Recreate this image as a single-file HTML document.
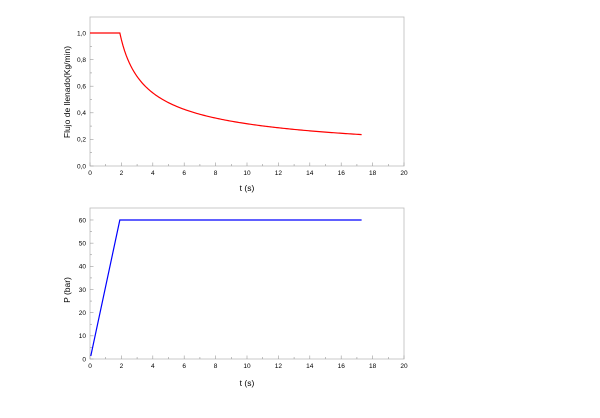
<!DOCTYPE html><html><head><style>body{margin:0;background:#fff}svg{display:block;font-family:"Liberation Sans",sans-serif}</style></head><body>
<svg id="s" width="600" height="418" xmlns="http://www.w3.org/2000/svg">
<g id="g1"></g>
<text x="247" y="191" font-size="8.5" text-anchor="middle">t (s)</text>
<text x="247" y="386" font-size="8.5" text-anchor="middle">t (s)</text>
<text transform="translate(70,92) rotate(-90)" font-size="8.5" text-anchor="middle">Flujo de llenado(Kg/min)</text>
<text transform="translate(70,290) rotate(-90)" font-size="8.5" text-anchor="middle">P (bar)</text>
</svg>
<script>
var g=document.getElementById('g1'),h='';
var X0=90,X1=404;function X(t){return X0+(X1-X0)*t/20}
function axes(top,bot,y0,ys,yt,ylab){
 h+='<rect x="'+X0+'" y="'+top+'" width="'+(X1-X0)+'" height="'+(bot-top)+'" fill="none" stroke="#bbb" stroke-width="0.8"/>';
 for(var t=0;t<=20;t+=1){var x=X(t),L=t%2?2:3.5;h+='<line x1="'+x+'" x2="'+x+'" y1="'+bot+'" y2="'+(bot-L)+'" stroke="#999" stroke-width="0.6"/>';
  if(t%2==0)h+='<text x="'+x+'" y="'+(bot+9)+'" font-size="6.5" text-anchor="middle">'+t+'</text>';}
 for(var i=0;i<yt.length;i++){var v=yt[i],y=y0-v*ys;h+='<line x1="'+X0+'" x2="'+(X0+3.5)+'" y1="'+y+'" y2="'+y+'" stroke="#999" stroke-width="0.6"/>';
  h+='<text x="'+(X0-4)+'" y="'+(y+2.3)+'" font-size="6.5" text-anchor="end">'+ylab[i]+'</text>';
  if(i<yt.length-1){var m=y0-(v+(yt[1]-yt[0])/2)*ys;h+='<line x1="'+X0+'" x2="'+(X0+2)+'" y1="'+m+'" y2="'+m+'" stroke="#999" stroke-width="0.6"/>';}}
}
axes(17,166,166,133,[0,.2,.4,.6,.8,1],["0,0","0,2","0,4","0,6","0,8","1,0"]);
axes(208,359,359,2.317,[0,10,20,30,40,50,60],["0","10","20","30","40","50","60"]);
var p='M'+X(0)+' 33 L'+X(1.9)+' 33';
for(var t=1.9;t<=17.3;t+=0.1){var f=1/Math.sqrt(1+1.1*(t-1.9));p+=' L'+X(t).toFixed(2)+' '+(166-133*f).toFixed(2);}
h+='<path d="'+p+'" fill="none" stroke="#f00" stroke-width="1.2"/>';
h+='<path d="M'+X(0.05)+' 356 L'+X(1.9)+' 220 L'+X(17.3)+' 220" fill="none" stroke="#00f" stroke-width="1.2"/>';
g.innerHTML=h;
</script></body></html>
